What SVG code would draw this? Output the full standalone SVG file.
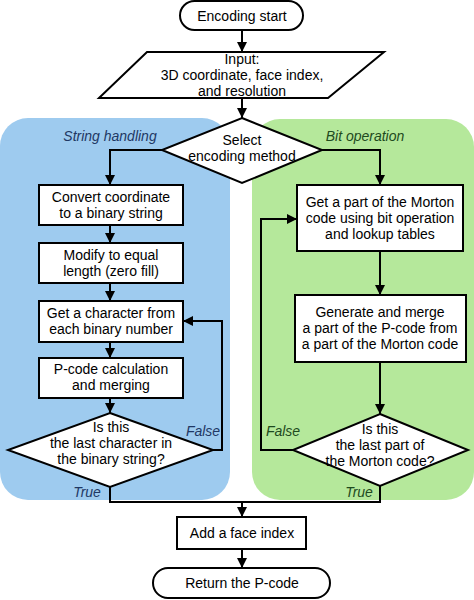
<svg xmlns="http://www.w3.org/2000/svg" width="474" height="600" viewBox="0 0 474 600">
<defs>
<marker id="ah" viewBox="0 0 10 10" refX="10" refY="5" markerWidth="5" markerHeight="5" orient="auto" markerUnits="strokeWidth">
<path d="M0,0 L10,5 L0,10 z" fill="#000"/>
</marker>
<style>
.s{fill:#fff;stroke:#000;stroke-width:2}
.t{font-family:"Liberation Sans",Arial,sans-serif;font-size:14px;fill:#000;text-anchor:middle;dominant-baseline:central}
.lb{font-style:italic;fill:#1f3864}
.lg{font-style:italic;fill:#1e4a1e}
.c{fill:none;stroke:#000;stroke-width:2}
.a{marker-end:url(#ah)}
</style>
</defs>
<rect width="474" height="600" fill="#fff"/>
<g id="regions">
<rect x="0" y="118" width="230" height="382" rx="28" fill="#9ecbef"/>
<rect x="252" y="119" width="222" height="381" rx="28" fill="#b5e89b"/>
<text class="t lb" x="110" y="136">String handling</text>
<text class="t lg" x="365" y="136">Bit operation</text>
</g>
<g id="connectors">
<path class="c a" d="M242,30 V52"/>
<path class="c a" d="M242,98 V118"/>
<path class="c a" d="M162,150 H110 V185"/>
<path class="c a" d="M322,150 H380 V185"/>
<path class="c a" d="M110,225 V243"/>
<path class="c a" d="M110,283 V301"/>
<path class="c a" d="M110,342 V358"/>
<path class="c a" d="M110,398 V413"/>
<path class="c a" d="M213,450 H222 V321 H183"/>
<path class="c" d="M110,487 V502 H380 V486"/>
<path class="c a" d="M242,502 V517"/>
<path class="c a" d="M380,251 V295"/>
<path class="c a" d="M380,362 V414"/>
<path class="c a" d="M293,450 H261 V219 H297"/>
<path class="c a" d="M242,549 V568"/>
<text class="t lb" x="203" y="431">False</text>
<text class="t lb" x="87" y="492">True</text>
<text class="t lg" x="283" y="431">False</text>
<text class="t lg" x="359" y="492">True</text>
</g>
<g id="start">
<rect class="s" x="180" y="1" width="123" height="29" rx="14.5"/>
<text class="t" x="242" y="16">Encoding start</text>
</g>
<g id="input">
<polygon class="s" points="147,52 384,52 328,98 99,98"/>
<text class="t" x="242" y="59">Input:</text>
<text class="t" x="242" y="75">3D coordinate, face index,</text>
<text class="t" x="242" y="91">and resolution</text>
</g>
<g id="select">
<polygon class="s" points="242,118 322,150 242,183 162,150"/>
<text class="t" x="242" y="140">Select</text>
<text class="t" x="242" y="156">encoding method</text>
</g>
<g id="convert">
<rect class="s" x="39" y="185" width="144" height="40"/>
<text class="t" x="111" y="197">Convert coordinate</text>
<text class="t" x="111" y="213">to a binary string</text>
</g>
<g id="modify">
<rect class="s" x="39" y="243" width="144" height="40"/>
<text class="t" x="111" y="255">Modify to equal</text>
<text class="t" x="111" y="271">length (zero fill)</text>
</g>
<g id="getchar">
<rect class="s" x="39" y="301" width="144" height="41"/>
<text class="t" x="111" y="313">Get a character from</text>
<text class="t" x="111" y="329">each binary number</text>
</g>
<g id="pcode">
<rect class="s" x="39" y="358" width="144" height="40"/>
<text class="t" x="111" y="369">P-code calculation</text>
<text class="t" x="111" y="385">and merging</text>
</g>
<g id="lastchar">
<polygon class="s" points="110,413 213,450 110,487 8,450"/>
<text class="t" x="111" y="427">Is this</text>
<text class="t" x="111" y="443">the last character in</text>
<text class="t" x="111" y="459">the binary string?</text>
</g>
<g id="morton">
<rect class="s" x="297" y="185" width="166" height="66"/>
<text class="t" x="380" y="202">Get a part of the Morton</text>
<text class="t" x="380" y="218">code using bit operation</text>
<text class="t" x="380" y="234">and lookup tables</text>
</g>
<g id="generate">
<rect class="s" x="295" y="295" width="171" height="67"/>
<text class="t" x="380" y="312">Generate and merge</text>
<text class="t" x="380" y="328">a part of the P-code from</text>
<text class="t" x="380" y="344">a part of the Morton code</text>
</g>
<g id="lastpart">
<polygon class="s" points="380,414 468,450 380,486 293,450"/>
<text class="t" x="380" y="429">Is this</text>
<text class="t" x="380" y="445">the last part of</text>
<text class="t" x="380" y="461">the Morton code?</text>
</g>
<g id="addface">
<rect class="s" x="177" y="517" width="129" height="32"/>
<text class="t" x="242" y="533">Add a face index</text>
</g>
<g id="return">
<rect class="s" x="153" y="568" width="177" height="30" rx="15"/>
<text class="t" x="242" y="583">Return the P-code</text>
</g>
</svg>
